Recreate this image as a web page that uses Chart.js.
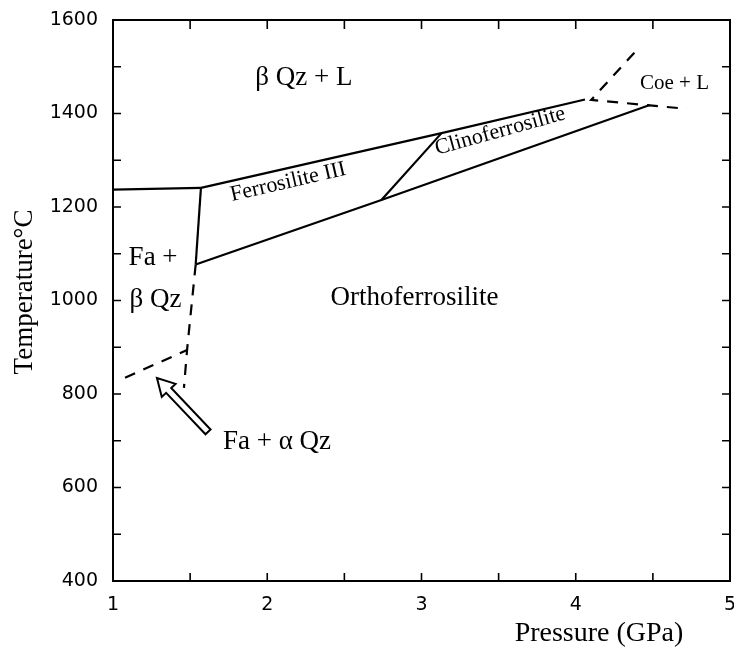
<!DOCTYPE html>
<html>
<head>
<meta charset="utf-8">
<script src="https://cdn.jsdelivr.net/npm/chart.js@4/dist/chart.umd.min.js"></script>
<style>
  html, body { margin: 0; background: #fff; }
  #wrap { width: 734px; height: 649px; }
</style>
</head>
<body>
<div id="wrap"><canvas id="c"></canvas></div>
<script>
// Phase boundaries, points are [pressure GPa, temperature °C]
const meltLeft   = [[1.0, 1237], [1.57, 1241]];
const fs3Upper   = [[1.57, 1241], [3.13, 1358], [4.06, 1430]];
const fs3Left    = [[1.57, 1241], [1.536, 1077]];
const opxUpper   = [[1.536, 1077], [2.74, 1215], [4.48, 1418]];
const fs3Cfs     = [[2.74, 1215], [3.13, 1358]];
const coeDashed  = [[4.38, 1530], [4.10, 1429], [4.72, 1410]];
const qzDashed   = [[1.536, 1077], [1.48, 894], [1.46, 813]];
const alphaBeta  = [[1.078, 835], [1.48, 894]];

// axis ticks
const xTicks = [1, 2, 3, 4, 5];
const xMinor = [1.5, 2, 2.5, 3, 3.5, 4, 4.5];
const yTicks = [400, 600, 800, 1000, 1200, 1400, 1600];
const yMinor = [500, 600, 700, 800, 900, 1000, 1100, 1200, 1300, 1400, 1500];

// field names, anchored in data coords
const SERIF = "'Liberation Serif', 'Times New Roman', serif";
const fieldLabels = [
  { text: 'β Qz + L',          p: 2.238, t: 1476, size: 27, angle: 0 },
  { text: 'Coe + L',           p: 4.64,  t: 1465, size: 21, angle: 0 },
  { text: 'Clinoferrosilite',  p: 3.51,  t: 1362, size: 22, angle: -15.5 },
  { text: 'Ferrosilite III',   p: 2.135, t: 1253, size: 22, angle: -13 },
  { text: 'Fa +',              p: 1.26,  t: 1091, size: 27, angle: 0 },
  { text: 'β Qz',              p: 1.275, t: 1001, size: 27, angle: 0 },
  { text: 'Orthoferrosilite',  p: 2.955, t: 1005, size: 27, angle: 0 },
  { text: 'Fa + α Qz',         p: 2.063, t: 697,  size: 27, angle: 0 },
];
const arrowTip  = [1.285, 834];
const arrowTail = [1.616, 719];

function line(pts, dashed) {
  return {
    data: pts.map(([x, y]) => ({ x, y })),
    showLine: true,
    borderColor: '#000',
    borderWidth: 2.2,
    borderDash: dashed ? [11, 9] : [],
    pointRadius: 0,
    tension: 0,
  };
}

const frame = {
  id: 'frame',
  afterDraw(chart) {
    const { ctx, chartArea: a, scales: { x, y } } = chart;
    ctx.save();
    ctx.strokeStyle = '#000';
    ctx.lineWidth = 2;
    ctx.strokeRect(a.left, a.top, a.right - a.left, a.bottom - a.top);

    // inward ticks on all four sides
    ctx.lineWidth = 1.6;
    ctx.beginPath();
    xMinor.forEach(v => {
      const px = x.getPixelForValue(v);
      ctx.moveTo(px, a.bottom); ctx.lineTo(px, a.bottom - 8);
      ctx.moveTo(px, a.top);    ctx.lineTo(px, a.top + 9);
    });
    yMinor.forEach(v => {
      const py = y.getPixelForValue(v);
      ctx.moveTo(a.left, py);  ctx.lineTo(a.left + 8, py);
      ctx.moveTo(a.right, py); ctx.lineTo(a.right - 8, py);
    });
    ctx.stroke();

    // hollow arrow
    const tx = x.getPixelForValue(arrowTip[0]), ty = y.getPixelForValue(arrowTip[1]);
    const sx = x.getPixelForValue(arrowTail[0]), sy = y.getPixelForValue(arrowTail[1]);
    const len = Math.hypot(tx - sx, ty - sy);
    const ux = (tx - sx) / len, uy = (ty - sy) / len;
    const nx = -uy, ny = ux;
    const headL = 17, headW = 9.5, shaftW = 3.5;
    const bx = tx - ux * headL, by = ty - uy * headL;
    ctx.beginPath();
    ctx.moveTo(sx + nx * shaftW, sy + ny * shaftW);
    ctx.lineTo(bx + nx * shaftW, by + ny * shaftW);
    ctx.lineTo(bx + nx * headW, by + ny * headW);
    ctx.lineTo(tx, ty);
    ctx.lineTo(bx - nx * headW, by - ny * headW);
    ctx.lineTo(bx - nx * shaftW, by - ny * shaftW);
    ctx.lineTo(sx - nx * shaftW, sy - ny * shaftW);
    ctx.closePath();
    ctx.fillStyle = '#fff';
    ctx.fill();
    ctx.lineWidth = 2;
    ctx.stroke();

    // field labels
    ctx.fillStyle = '#000';
    ctx.textAlign = 'center';
    ctx.textBaseline = 'middle';
    fieldLabels.forEach(l => {
      ctx.save();
      ctx.translate(x.getPixelForValue(l.p), y.getPixelForValue(l.t));
      ctx.rotate(l.angle * Math.PI / 180);
      ctx.font = `${l.size}px ${SERIF}`;
      ctx.fillText(l.text, 0, 0);
      ctx.restore();
    });

    // axis titles
    ctx.font = `28px ${SERIF}`;
    ctx.fillText('Pressure (GPa)', 599, 634);
    ctx.save();
    ctx.translate(25, 292);
    ctx.rotate(-Math.PI / 2);
    ctx.font = `27px ${SERIF}`;
    ctx.fillText('Temperature°C', 0, 0);
    ctx.restore();
    ctx.restore();
  }
};

new Chart(document.getElementById('c'), {
  type: 'scatter',
  data: {
    datasets: [
      line(meltLeft), line(fs3Upper), line(fs3Left), line(opxUpper), line(fs3Cfs),
      line(coeDashed, true), line(qzDashed, true), line(alphaBeta, true),
    ],
  },
  options: {
    responsive: true,
    maintainAspectRatio: false,
    animation: false,
    layout: { padding: { top: 20, right: 4, left: 0, bottom: 0 } },
    plugins: { legend: { display: false }, tooltip: { enabled: false } },
    scales: {
      x: {
        type: 'linear', min: 1, max: 5,
        afterBuildTicks: s => { s.ticks = xTicks.map(value => ({ value })); },
        afterFit: s => { s.height = 68; s.paddingLeft = 0; s.paddingRight = 0; },
        grid: { display: false, drawTicks: false },
        border: { display: false },
        ticks: { padding: 13, color: '#000', maxRotation: 0, callback: v => String(v),
                 font: { family: "'DejaVu Sans'", size: 19 } },
      },
      y: {
        type: 'linear', min: 400, max: 1600,
        afterBuildTicks: s => { s.ticks = yTicks.map(value => ({ value })); },
        afterFit: s => { s.width = 113; s.paddingTop = 0; s.paddingBottom = 0; },
        grid: { display: false, drawTicks: false },
        border: { display: false },
        ticks: { padding: 15, color: '#000', callback: v => String(v),
                 font: { family: "'DejaVu Sans'", size: 19 } },
      },
    },
  },
  plugins: [frame],
});
</script>
</body>
</html>
